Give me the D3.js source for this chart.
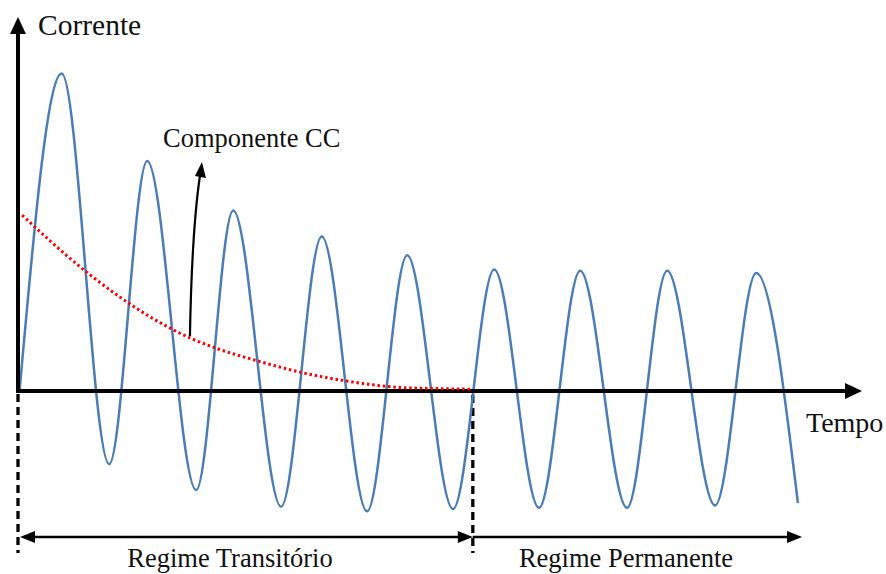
<!DOCTYPE html>
<html><head><meta charset="utf-8">
<script src="https://cdn.jsdelivr.net/npm/d3@7"></script>
<style>html,body{margin:0;padding:0;background:#fff;}svg{display:block;}</style>
</head><body>
<svg id="chart" width="886" height="574"></svg>
<script>
// ---- data (time in ms, current in pu) ----
const peakTimes = [8.4, 24.8, 41.3, 58.3, 74.7, 91.4, 107.9, 124.6, 141.7];
const peakValues = [2.69, 1.95, 1.53, 1.31, 1.15, 1.03, 1.02, 1.02, 1.00];
const troughTimes = [17.5, 34.2, 50.5, 67.0, 83.5, 100.0, 116.9, 133.8];
const troughValues = [-0.62, -0.84, -0.98, -1.02, -1.00, -0.99, -0.99, -0.97];
const startPoint = [0.3, 0.0];
const endPoint = [149.7, -0.95];
const dcTimes = [0.8, 13.1, 25.3, 33.0, 38.2, 46.4, 54.1, 63.7, 73.3, 81.0, 87.3];
const dcValues = [1.49, 1.01, 0.63, 0.45, 0.36, 0.25, 0.16, 0.08, 0.03, 0.02, 0.015];
const transitionEnd = 87.3;
const regimeEnd = 150.5;
const labels = {
  yAxis: "Corrente", xAxis: "Tempo", dc: "Componente CC",
  transient: "Regime Transitório", steady: "Regime Permanente"
};

// ---- build series ----
const wave = [startPoint];
const ext = [];
peakTimes.forEach((t, i) => ext.push([t, peakValues[i]]));
troughTimes.forEach((t, i) => ext.push([t, troughValues[i]]));
ext.sort((a, b) => a[0] - b[0]);
wave.push(...ext, endPoint);
const dc = dcTimes.map((t, i) => [t, dcValues[i]]);

// ---- scales ----
const x = d3.scaleLinear().domain([0, 162]).range([18, 862]);
const y = d3.scaleLinear().domain([-1.5, 3.2]).range([391 + 1.5 * 118, 391 - 3.2 * 118]);

const svg = d3.select("#chart");
const font = "'Liberation Serif','Times New Roman',serif";
const x0 = x(0), y0 = y(0);

// dashed verticals
svg.append("line").attr("x1", x0).attr("x2", x0).attr("y1", y0 + 3).attr("y2", 553)
  .attr("stroke", "#000").attr("stroke-width", 3.3).attr("stroke-dasharray", "8 5");
svg.append("line").attr("x1", x(transitionEnd)).attr("x2", x(transitionEnd)).attr("y1", y0 + 4).attr("y2", 553)
  .attr("stroke", "#000").attr("stroke-width", 3.3).attr("stroke-dasharray", "8 5");

// wave
const line = d3.line().x(d => x(d[0])).y(d => y(d[1])).curve(d3.curveMonotoneX);
svg.append("path").datum(wave).attr("d", line).attr("fill", "none")
  .attr("stroke", "#4a7db5").attr("stroke-width", 2.5);

// axes
svg.append("line").attr("x1", x0).attr("x2", x0).attr("y1", y0 + 2).attr("y2", 30)
  .attr("stroke", "#000").attr("stroke-width", 4);
svg.append("path").attr("d", `M${x0},17 L${x0 + 8},34 L${x0 - 8},34 Z`).attr("fill", "#000");
svg.append("line").attr("x1", x0 - 2).attr("x2", 850).attr("y1", y0).attr("y2", y0)
  .attr("stroke", "#000").attr("stroke-width", 4);
svg.append("path").attr("d", `M862,${y0} L845,${y0 - 8} L845,${y0 + 8} Z`).attr("fill", "#000");

// dc component
const dcLine = d3.line().x(d => x(d[0])).y(d => y(d[1])).curve(d3.curveMonotoneX);
svg.append("path").datum(dc).attr("d", dcLine).attr("fill", "none")
  .attr("stroke", "#ff0000").attr("stroke-width", 3).attr("stroke-dasharray", "2.5 2.8");

// arrow to label
const ax = x(dcTimes[3]), ay = y(dcValues[3]);
svg.append("path").attr("d", `M${ax},${ay - 2} Q${ax + 2},230 ${ax + 10},176`)
  .attr("fill", "none").attr("stroke", "#000").attr("stroke-width", 2.2);
svg.append("path").attr("d", `M${ax + 12},162 L${ax + 16},178 L${ax + 5},176 Z`).attr("fill", "#000");

// regime arrows
const ry = 537;
svg.append("line").attr("x1", x0 + 6).attr("x2", x(transitionEnd) - 6).attr("y1", ry).attr("y2", ry)
  .attr("stroke", "#000").attr("stroke-width", 2.5);
svg.append("path").attr("d", `M${x0 + 2},${ry} L${x0 + 17},${ry - 6} L${x0 + 17},${ry + 6} Z`).attr("fill", "#000");
svg.append("path").attr("d", `M${x(transitionEnd)},${ry} L${x(transitionEnd) - 15},${ry - 6} L${x(transitionEnd) - 15},${ry + 6} Z`).attr("fill", "#000");
svg.append("line").attr("x1", x(transitionEnd)).attr("x2", x(regimeEnd) - 6).attr("y1", ry).attr("y2", ry)
  .attr("stroke", "#000").attr("stroke-width", 2.5);
svg.append("path").attr("d", `M${x(regimeEnd)},${ry} L${x(regimeEnd) - 15},${ry - 6} L${x(regimeEnd) - 15},${ry + 6} Z`).attr("fill", "#000");

// texts
function txt(s, tx, ty, size, anchor) {
  svg.append("text").attr("x", tx).attr("y", ty).attr("font-family", font)
    .attr("font-size", size).attr("fill", "#111").attr("text-anchor", anchor || "start").text(s);
}
txt(labels.yAxis, 38, 35, 29.5);
txt(labels.dc, 163, 147, 26.5);
txt(labels.xAxis, 806, 432, 28);
txt(labels.transient, 230, 567, 26.5, "middle");
txt(labels.steady, 626, 567, 26.5, "middle");
</script>
</body></html>
